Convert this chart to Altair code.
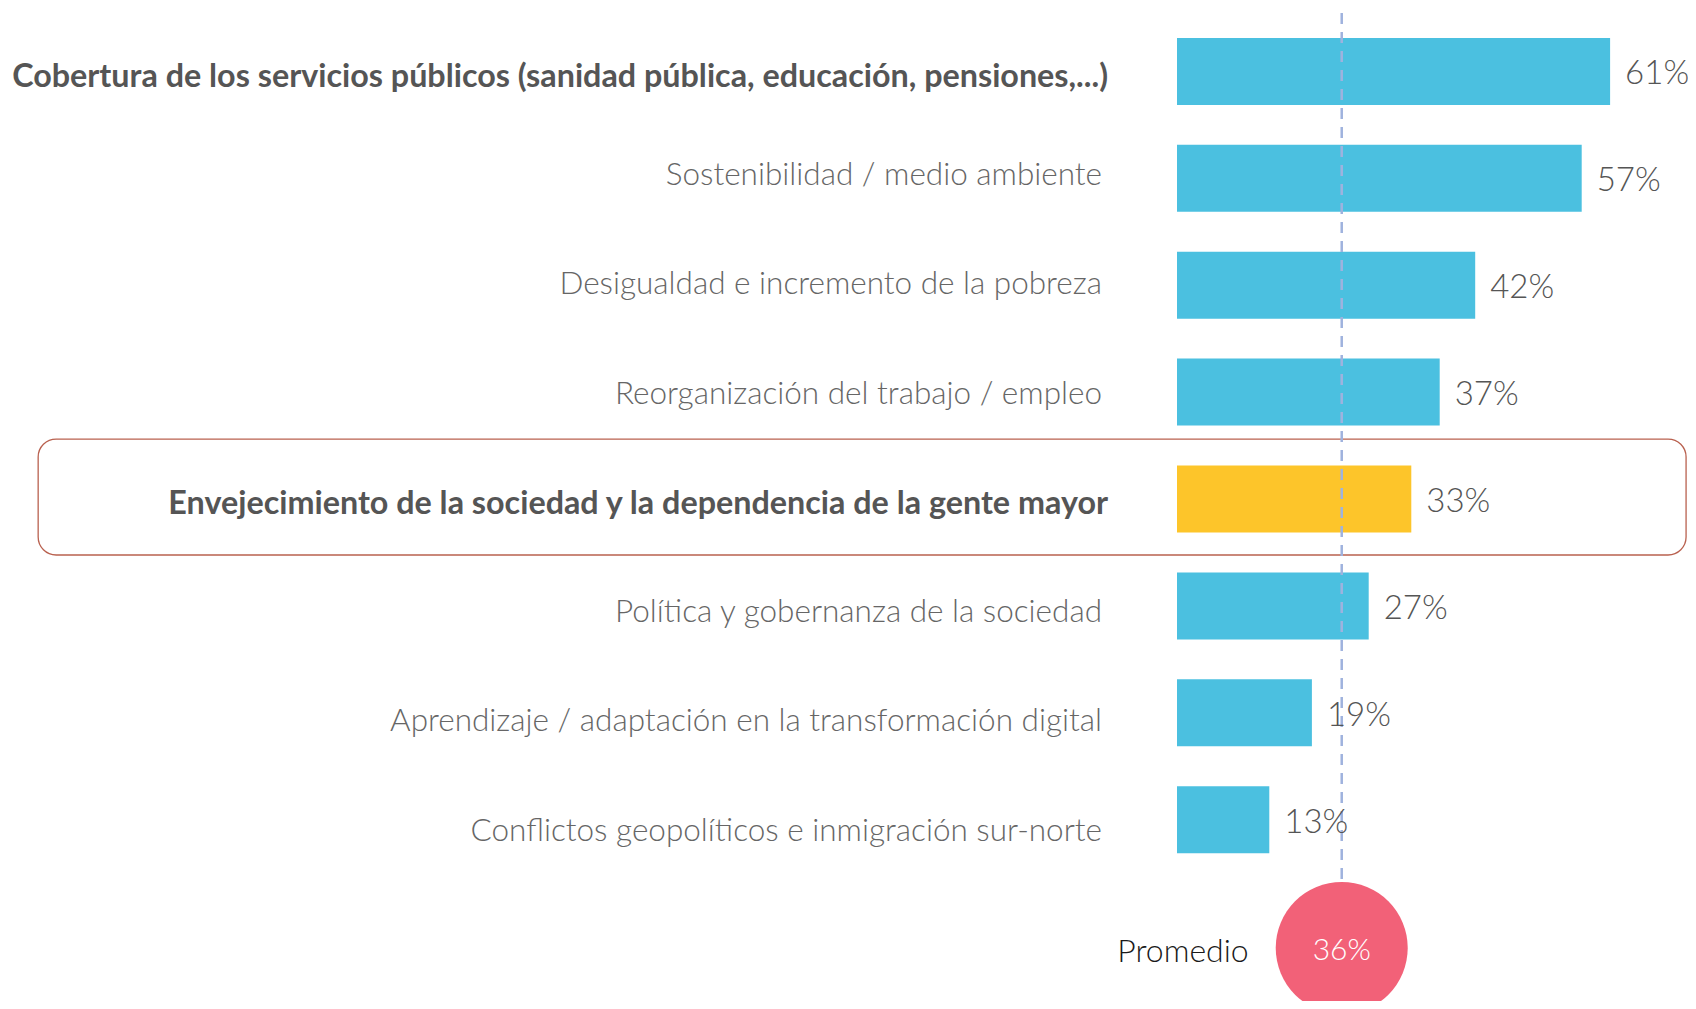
import altair as alt
import pandas as pd

# ---- data ----
categories = [
    "Cobertura de los servicios públicos (sanidad pública, educación, pensiones,...)",
    "Sostenibilidad / medio ambiente",
    "Desigualdad e incremento de la pobreza",
    "Reorganización del trabajo / empleo",
    "Envejecimiento de la sociedad y la dependencia de la gente mayor",
    "Política y gobernanza de la sociedad",
    "Aprendizaje / adaptación en la transformación digital",
    "Conflictos geopolíticos e inmigración sur-norte",
]
values = [61, 57, 42, 37, 33, 27, 19, 13]
highlighted = [False, False, False, False, True, False, False, False]
bold_label = [True, False, False, False, True, False, False, False]
average_value = 36
average_name = "Promedio"

# ---- layout constants (pixels / scale units) ----
W, H = 1680, 993
X_ZERO_PX = 1169.0
PX_PER_UNIT = 7.1
Y_FIRST_PX = 63.4
ROW_STEP = 106.9
MARKER_X = 23.2          # where the dashed marker line / circle sits on the bar scale
MARKER_ROW = 8.2         # row position of the average bubble
BOX_LEFT = -160.4
BOX_RIGHT = 71.7
LABEL_DRIFT = 0.022
LABEL_SHIFT = -0.04

df = pd.DataFrame({
    "cat": categories,
    "value": values,
    "rank": list(range(len(categories))),
    "hl": highlighted,
    "bold": bold_label,
})
df["pct"] = df["value"].astype(str) + "%"
df["base"] = 0
df["barcolor"] = ["#FDC52A" if h else "#4BC0E0" for h in df["hl"]]
df["label_row"] = [
    r + 0.03 if b else r + LABEL_SHIFT + LABEL_DRIFT * (r - 1)
    for r, b in zip(df["rank"], df["bold"])
]

box = df[df["hl"]].copy()
box["y1"] = box["rank"] - 0.561
box["y2"] = box["rank"] + 0.524
box["x1"] = BOX_LEFT
box["x2"] = BOX_RIGHT

avg = pd.DataFrame({
    "pos": [MARKER_X],
    "ytop": [-0.546],
    "ybub": [MARKER_ROW],
    "label": [f"{average_value}%"],
    "name": [average_name],
})

xs = alt.Scale(domain=[-X_ZERO_PX / PX_PER_UNIT, (W - X_ZERO_PX) / PX_PER_UNIT],
               nice=False, zero=False, padding=0)
ys = alt.Scale(domain=[-Y_FIRST_PX / ROW_STEP, (H - Y_FIRST_PX) / ROW_STEP],
               nice=False, zero=False, reverse=True, padding=0)

FONT = "Lato"

boxes = alt.Chart(box).mark_rect(
    fillOpacity=0, stroke="#b9614f", strokeWidth=1.3, cornerRadius=18
).encode(
    x=alt.X("x1:Q", scale=xs, axis=None), x2="x2:Q",
    y=alt.Y("y1:Q", scale=ys, axis=None), y2="y2:Q",
)

bars = alt.Chart(df).mark_bar(orient="horizontal", size=67).encode(
    x=alt.X("base:Q", scale=xs, axis=None), x2="value:Q",
    y=alt.Y("rank:Q", scale=ys, axis=None),
    color=alt.Color("barcolor:N", scale=None),
)

rule = alt.Chart(avg).mark_rule(strokeDash=[11, 8], strokeWidth=2.5, color="#9fb2de").encode(
    x=alt.X("pos:Q", scale=xs, axis=None),
    y=alt.Y("ytop:Q", scale=ys, axis=None), y2="ybub:Q",
)

labels_normal = alt.Chart(df[~df["bold"]]).mark_text(
    align="right", baseline="middle", dx=-75, dy=2, font=FONT, fontSize=31.5, fontWeight=300, color="#666666"
).encode(
    x=alt.X("base:Q", scale=xs, axis=None), y=alt.Y("label_row:Q", scale=ys, axis=None), text="cat:N"
)

labels_bold = alt.Chart(df[df["bold"]]).mark_text(
    align="right", baseline="middle", dx=-69, dy=2, font=FONT, fontSize=32.3, fontWeight="bold", color="#555555"
).encode(
    x=alt.X("base:Q", scale=xs, axis=None), y=alt.Y("label_row:Q", scale=ys, axis=None), text="cat:N"
)

pct = alt.Chart(df).mark_text(
    align="left", baseline="middle", dx=15, dy=3, font=FONT, fontSize=33, fontWeight=300, color="#555555"
).encode(
    x=alt.X("value:Q", scale=xs, axis=None), y=alt.Y("rank:Q", scale=ys, axis=None), text="pct:N"
)

bubble = alt.Chart(avg).mark_point(
    shape="circle", size=132 * 132, filled=True, color="#F26178", opacity=1
).encode(
    x=alt.X("pos:Q", scale=xs, axis=None), y=alt.Y("ybub:Q", scale=ys, axis=None)
)

bubble_text = alt.Chart(avg).mark_text(
    align="center", baseline="middle", dy=3, font=FONT, fontSize=30, fontWeight=300, color="white"
).encode(
    x=alt.X("pos:Q", scale=xs, axis=None), y=alt.Y("ybub:Q", scale=ys, axis=None), text="label:N"
)

avg_name = alt.Chart(avg).mark_text(
    align="right", baseline="middle", dx=-93, dy=4, font=FONT, fontSize=32, fontWeight=300, color="#1a1a1a"
).encode(
    x=alt.X("pos:Q", scale=xs, axis=None), y=alt.Y("ybub:Q", scale=ys, axis=None), text="name:N"
)

chart = alt.layer(
    boxes, bars, rule, labels_normal, labels_bold, pct, bubble, bubble_text, avg_name
).properties(
    width=W, height=H, padding=0, autosize=alt.AutoSizeParams(type="none")
).configure_view(stroke=None)

chart.save("out.html", embed_options={"renderer": "svg", "actions": False})
